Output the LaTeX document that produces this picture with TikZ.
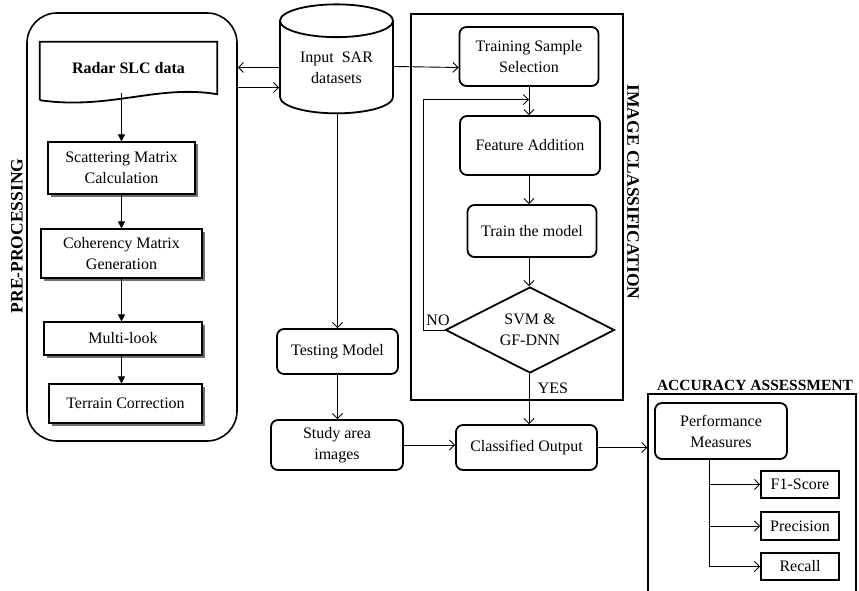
\documentclass[tikz,border=0pt]{standalone}
\usepackage{fontspec}
\setmainfont{Liberation Serif}
\usetikzlibrary{arrows.meta,shapes.geometric,shadows,calc}

\tikzset{
  txt/.style={font=\fontsize{16}{21}\selectfont, align=center, inner sep=0pt},
  prebox/.style={txt, draw, line width=1.1pt, fill=white,
    drop shadow={shadow xshift=2.5pt, shadow yshift=-2.5pt, fill=black!70, opacity=0.8}},
  stepbox/.style={txt, draw, line width=1.8pt, rounded corners=7pt, fill=white},
  frame/.style={draw, line width=1.4pt},
  title/.style={font=\fontsize{17.5}{19}\selectfont\bfseries, inner sep=0pt},
  tri/.style={line width=0.9pt, -{Triangle[length=7pt,width=7pt]}},
  arr/.style={line width=0.9pt, -{Straight Barb[length=5pt,width=10pt]}},
}

\begin{document}
\begin{tikzpicture}[x=1pt, y=-1pt]
  \useasboundingbox (0,0) rectangle (859,591);
  % pre-processing block
  \node (pre) at (132,227) [draw, line width=1.6pt, rounded corners=30pt,
    minimum width=210pt, minimum height=428pt] {};
  \node (prelbl) at (17,236) [title, rotate=90] {PRE-PROCESSING};
  %
  \node (radar) at (128.5,68) [txt, minimum width=177pt, minimum height=52pt,
    font=\fontsize{16}{20}\selectfont\bfseries] {Radar SLC data};
  \draw [line width=1.8pt] ($(radar.south west)+(0,6)$) -- (radar.north west)
    -- (radar.north east) -- (radar.south east)
    .. controls ($(radar.south east)+(-60,-10)$) and ($(radar.south west)+(70,16)$)
    .. ($(radar.south west)+(0,6)$);
  %
  \node (scat) at (121.5,168) [prebox, minimum width=147pt, minimum height=52pt] {Scattering Matrix\\Calculation};
  \node (coh) at (121.5,253.5) [prebox, minimum width=161pt, minimum height=49pt] {Coherency Matrix\\Generation};
  \node (mlook) at (123,338.5) [prebox, minimum width=158pt, minimum height=33pt] {Multi-look};
  \node (terr) at (125.5,403.5) [prebox, minimum width=153pt, minimum height=39pt] {Terrain Correction};
  %
  \draw [tri] (radar.south -| scat.north) ++(0,-1) -- (scat.north);
  \draw [tri] (scat.south) -- (scat.south |- coh.north);
  \draw [tri] (coh.south -| scat.south) -- (scat.south |- mlook.north);
  \draw [tri] (mlook.south -| scat.south) -- (scat.south |- terr.north);
  % input data
  \node (sar) at (336.5,67.5) [txt, draw, line width=1.8pt, cylinder, shape border rotate=90,
    aspect=0.45, minimum width=113pt, minimum height=109pt] {Input~ SAR\\datasets};
  \draw [arr] (sar.west) -- (sar.west -| pre.east);
  \draw [arr] ($(pre.east |- sar.west)+(0,20)$) -- ($(sar.west)+(0,20)$);
  %
  \node (test) at (337.5,351.5) [stepbox, minimum width=121pt, minimum height=45pt] {Testing Model};
  \node (study) at (337,445) [stepbox, minimum width=132pt, minimum height=50pt] {Study area\\images};
  \draw [arr] (sar.south -| test.north) -- (test.north);
  \draw [arr] (test.south) -- (test.south |- study.north);
  % image classification block
  \node (ic) at (517,207) [frame, minimum width=212pt, minimum height=386pt] {};
  \node (iclbl) at (633,192) [title, rotate=-90] {IMAGE CLASSIFICATION};
  %
  \node (trs) at (529,56.5) [stepbox, minimum width=139pt, minimum height=59pt] {Training Sample\\Selection};
  \node (feat) at (530,145.5) [stepbox, minimum width=140pt, minimum height=59pt] {Feature Addition};
  \node (trn) at (532,231) [stepbox, minimum width=129pt, minimum height=52pt] {Train the model};
  \node (dec) at (530,330) [txt, draw, line width=1.8pt, diamond, aspect=1.97,
    minimum width=169pt, minimum height=86pt] {SVM \&\\GF-DNN};
  \draw [arr] ($(sar.east)+(0,-1)$) -- (sar.east -| trs.west);
  \draw [arr] (trs.south) -- (trs.south |- feat.north);
  \draw [arr] (feat.south -| trs.south) -- (trs.south |- trn.north);
  \draw [arr] (trn.south -| trs.south) -- (trs.south |- dec.north);
  \coordinate (fb) at ($(trs.south)!0.45!(trs.south |- feat.north)$);
  \draw [arr] (dec.west) -- ++(-21,0) |- (fb);
  \node (no) at (438,320) [txt] {NO};
  \node (yes) at (553,388) [txt] {YES};
  %
  \node (cls) at (526.5,447.5) [stepbox, minimum width=141pt, minimum height=45pt] {Classified Output};
  \draw [arr] (dec.south -| trs.south) -- (trs.south |- cls.north);
  \draw [arr] (study.east) -- (study.east -| cls.west);
  % accuracy assessment block
  \node (acc) at (752,502) [frame, minimum width=208pt, minimum height=216pt] {};
  \node (acclbl) at (755,385) [title, font=\fontsize{15.5}{17}\selectfont\bfseries] {ACCURACY ASSESSMENT};
  \node (perf) at (721,431) [stepbox, minimum width=132pt, minimum height=56pt] {Performance\\Measures};
  \draw [arr] (cls.east) -- (cls.east -| acc.west);
  %
  \node (fone) at (800,484.5) [txt, draw, line width=1.8pt, minimum width=78pt, minimum height=27pt] {F1-Score};
  \node (prec) at (800,526) [txt, draw, line width=1.8pt, minimum width=78pt, minimum height=28pt] {Precision};
  \node (rec) at (800,566.5) [txt, draw, line width=1.8pt, minimum width=78pt, minimum height=27pt] {Recall};
  \coordinate (br) at ($(perf.south)+(-12,0)$);
  \draw [line width=0.9pt] (br) -- (br |- rec.west);
  \foreach \m in {fone, prec, rec}
    \draw [arr] (br |- \m.west) -- (\m.west);
\end{tikzpicture}
\end{document}
